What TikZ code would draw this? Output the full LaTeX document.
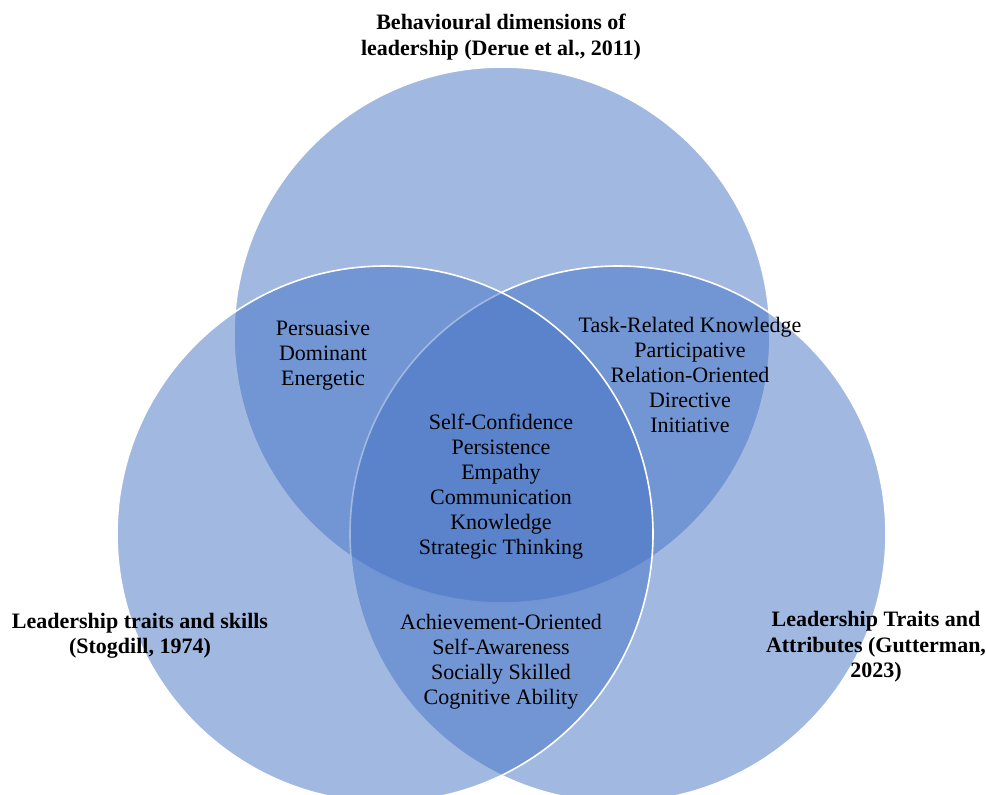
\documentclass[tikz,border=0pt]{standalone}
\usepackage{fontspec}
\setmainfont{Liberation Serif}
\definecolor{setblue}{RGB}{68,114,196}
\begin{document}
\begin{tikzpicture}[x=1pt, y=-1pt,
    set/.style={fill=setblue, fill opacity=0.5, draw=white, draw opacity=1, line width=1.6pt},
    lst/.style={align=center, inner sep=0pt, text=black, font=\fontsize{22}{25}\selectfont},
    ttl/.style={lst, font=\fontsize{22}{25.5}\selectfont\bfseries}]

    \useasboundingbox (0,0) rectangle (986,795);
    \clip (0,0) rectangle (986,795);

    % the three sets, top one first so the side circles sit over it
    \draw[set] (502,335) circle[radius=268pt];
    \draw[set] (618,534) circle[radius=268pt];
    \draw[set] (385,534) circle[radius=268pt];

    % set headings
    \node[ttl] (beh) at (501,37) {Behavioural dimensions of\\leadership (Derue et al., 2011)};
    \node[ttl] (stog) at (140,636) {Leadership traits and skills\\(Stogdill, 1974)};
    \node[ttl] (gut) at (876,647) {Leadership Traits and\\Attributes (Gutterman,\\2023)};

    % overlaps
    \node[lst] (bs) at (323,356) {Persuasive\\Dominant\\Energetic};
    \node[lst] (bg) at (690,375) {Task-Related Knowledge\\Participative\\Relation-Oriented\\Directive\\Initiative};
    \node[lst] (all) at (501,487) {Self-Confidence\\Persistence\\Empathy\\Communication\\Knowledge\\Strategic Thinking};
    \node[lst] (sg) at (501,662) {Achievement-Oriented\\Self-Awareness\\Socially Skilled\\Cognitive Ability};

\end{tikzpicture}
\end{document}
